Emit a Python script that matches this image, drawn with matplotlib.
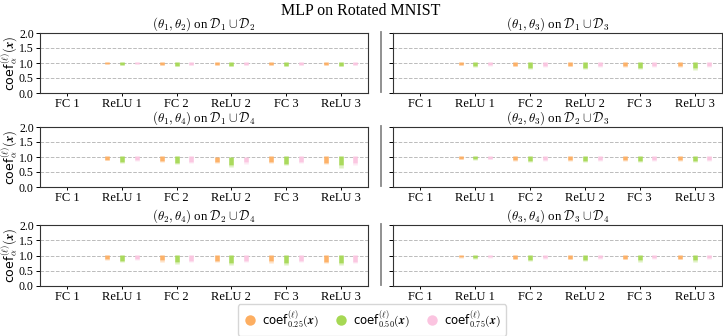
import matplotlib
matplotlib.use("Agg")
import matplotlib.pyplot as plt
from matplotlib.lines import Line2D

plt.rcParams["font.family"] = ["Liberation Serif", "DejaVu Serif"]
plt.rcParams["mathtext.fontset"] = "cm"

# ── data ─────────────────────────────────────────────────────────────────────
LAYERS = ["FC 1", "ReLU 1", "FC 2", "ReLU 2", "FC 3", "ReLU 3"]
ALPHAS = ["0.25", "0.50", "0.75"]
COLORS = ["#fdae61", "#a6d854", "#fbc4e0"]

TITLES = [
    r"$(\theta_1, \theta_2)$ on $\mathcal{D}_1 \cup \mathcal{D}_2$",
    r"$(\theta_1, \theta_3)$ on $\mathcal{D}_1 \cup \mathcal{D}_3$",
    r"$(\theta_1, \theta_4)$ on $\mathcal{D}_1 \cup \mathcal{D}_4$",
    r"$(\theta_2, \theta_3)$ on $\mathcal{D}_2 \cup \mathcal{D}_3$",
    r"$(\theta_2, \theta_4)$ on $\mathcal{D}_2 \cup \mathcal{D}_4$",
    r"$(\theta_3, \theta_4)$ on $\mathcal{D}_3 \cup \mathcal{D}_4$",
]

# top of each strip per panel (same for all three alphas)
HI_12 = [1.00, 1.03, 1.03, 1.02, 1.03, 1.02]
HI_13 = [1.00, 1.02, 1.02, 1.02, 1.02, 1.02]
HI_14 = [1.00, 1.02, 1.02, 1.00, 1.04, 1.02]
HI_23 = [1.00, 1.02, 1.02, 1.02, 1.02, 1.02]
HI_24 = [1.00, 1.02, 1.01, 1.01, 1.01, 1.01]
HI_34 = [1.00, 1.02, 1.02, 1.02, 1.02, 1.02]

# bottom of the dense part, rows = alpha 0.25 / 0.50 / 0.75
LO_12 = [[0.985, 0.97, 0.94, 0.94, 0.94, 0.94],
         [0.985, 0.94, 0.91, 0.91, 0.91, 0.91],
         [0.985, 0.97, 0.94, 0.94, 0.94, 0.94]]
LO_13 = [[0.985, 0.95, 0.91, 0.91, 0.90, 0.90],
         [0.985, 0.90, 0.85, 0.84, 0.85, 0.83],
         [0.985, 0.93, 0.90, 0.90, 0.90, 0.89]]
LO_14 = [[0.985, 0.91, 0.87, 0.83, 0.83, 0.81],
         [0.985, 0.85, 0.81, 0.75, 0.78, 0.72],
         [0.985, 0.89, 0.85, 0.82, 0.83, 0.80]]
LO_23 = [[0.985, 0.95, 0.91, 0.91, 0.91, 0.91],
         [0.985, 0.92, 0.86, 0.86, 0.86, 0.86],
         [0.985, 0.95, 0.91, 0.91, 0.91, 0.91]]
LO_24 = [[0.985, 0.89, 0.84, 0.82, 0.81, 0.80],
         [0.985, 0.83, 0.78, 0.75, 0.76, 0.74],
         [0.985, 0.89, 0.83, 0.82, 0.83, 0.80]]
LO_34 = [[0.985, 0.95, 0.90, 0.90, 0.90, 0.90],
         [0.985, 0.92, 0.85, 0.85, 0.84, 0.84],
         [0.985, 0.95, 0.91, 0.91, 0.91, 0.91]]

# bottom of the faint tail
TAIL_12 = [[0.985, 0.96, 0.92, 0.92, 0.92, 0.92],
           [0.985, 0.92, 0.89, 0.89, 0.89, 0.89],
           [0.985, 0.96, 0.92, 0.92, 0.92, 0.92]]
TAIL_13 = [[0.985, 0.93, 0.89, 0.89, 0.87, 0.87],
           [0.985, 0.87, 0.81, 0.80, 0.81, 0.78],
           [0.985, 0.91, 0.87, 0.87, 0.87, 0.86]]
TAIL_14 = [[0.985, 0.89, 0.84, 0.79, 0.79, 0.77],
           [0.985, 0.81, 0.76, 0.68, 0.72, 0.63],
           [0.985, 0.86, 0.81, 0.78, 0.79, 0.74]]
TAIL_23 = [[0.985, 0.93, 0.88, 0.88, 0.88, 0.88],
           [0.985, 0.90, 0.82, 0.82, 0.82, 0.82],
           [0.985, 0.93, 0.88, 0.88, 0.88, 0.88]]
TAIL_24 = [[0.985, 0.86, 0.80, 0.78, 0.77, 0.75],
           [0.985, 0.78, 0.72, 0.69, 0.70, 0.68],
           [0.985, 0.86, 0.79, 0.78, 0.79, 0.75]]
TAIL_34 = [[0.985, 0.93, 0.88, 0.88, 0.87, 0.87],
           [0.985, 0.90, 0.81, 0.81, 0.80, 0.80],
           [0.985, 0.93, 0.88, 0.88, 0.88, 0.88]]

PANELS = [
    (HI_12, LO_12, TAIL_12),
    (HI_13, LO_13, TAIL_13),
    (HI_14, LO_14, TAIL_14),
    (HI_23, LO_23, TAIL_23),
    (HI_24, LO_24, TAIL_24),
    (HI_34, LO_34, TAIL_34),
]

# ── layout (pixels of a 723x336 canvas) ──────────────────────────────────────
W, H = 723, 336
COL_X = [(40, 368), (393, 722)]
ROW_Y = [(33, 93), (127, 187), (225, 286)]
OFFSETS = [-0.267, 0.0, 0.267]


def plot(path: str) -> None:
    fig = plt.figure(figsize=(W / 100, H / 100), dpi=100)
    fig.text(361 / W, 1 - 11 / H, "MLP on Rotated MNIST",
             ha="center", va="center", fontsize=11.5)

    for idx, (hi, lo, tail) in enumerate(PANELS):
        row, col = idx // 2, idx % 2
        x0, x1 = COL_X[col]
        y0, y1 = ROW_Y[row]
        ax = fig.add_axes([x0 / W, 1 - y1 / H, (x1 - x0) / W, (y1 - y0) / H])

        for k in range(3):
            xs = [i + OFFSETS[k] for i in range(len(LAYERS))]
            ax.vlines(xs, tail[k], lo[k], color=COLORS[k], lw=3.3, alpha=0.35, zorder=3)
            ax.vlines(xs, lo[k], hi, color=COLORS[k], lw=3.3, alpha=0.95, zorder=4)

        ax.set_xlim(-0.5, len(LAYERS) - 0.5)
        ax.set_ylim(0, 2)
        ax.set_yticks([0, 0.5, 1.0, 1.5, 2.0])
        ax.set_xticks(range(len(LAYERS)))
        ax.set_xticklabels(LAYERS, fontsize=9)
        ax.grid(axis="y", linestyle="--", color="#bbbbbb", linewidth=0.7, zorder=0)
        ax.set_axisbelow(True)
        ax.tick_params(axis="x", length=2.5, width=0.7, pad=1)
        ax.tick_params(axis="y", length=3, width=0.7, pad=1.5, labelsize=8.5)
        for s in ax.spines.values():
            s.set_linewidth(0.8)
            s.set_color("#333333")
        ax.set_title(TITLES[idx], fontsize=9.3, pad=1.2)
        if col == 0:
            ax.set_ylabel(r"coef$_\alpha^{(\ell)}(\boldsymbol{x})$",
                          family="DejaVu Sans", fontsize=9)
            ax.yaxis.set_label_coords(-20 / (x1 - x0), 0.5)
        else:
            ax.set_yticklabels([])

        # separator between the two columns
        if col == 1:
            fig.add_artist(Line2D([381 / W, 381 / W],
                                  [1 - (y1 - 1) / H, 1 - (y0 - 1) / H],
                                  color="#888888", lw=1.3))

    handles = [Line2D([], [], marker="o", ls="", markersize=7.5, color=c,
                      markeredgewidth=0) for c in COLORS]
    labels = [r"coef$_{\mathbf{%s}}^{(\ell)}(\boldsymbol{x})$" % a for a in ALPHAS]
    fig.legend(handles, labels, loc="center", bbox_to_anchor=(372 / W, 1 - 320 / H),
               ncol=3, frameon=True, handletextpad=0.4, columnspacing=1.3,
               borderpad=0.45, handlelength=1.2,
               prop={"family": "DejaVu Sans", "size": 8.5})

    fig.savefig(path, dpi=100)
    plt.close(fig)


if __name__ == "__main__":
    plot("out.png")
